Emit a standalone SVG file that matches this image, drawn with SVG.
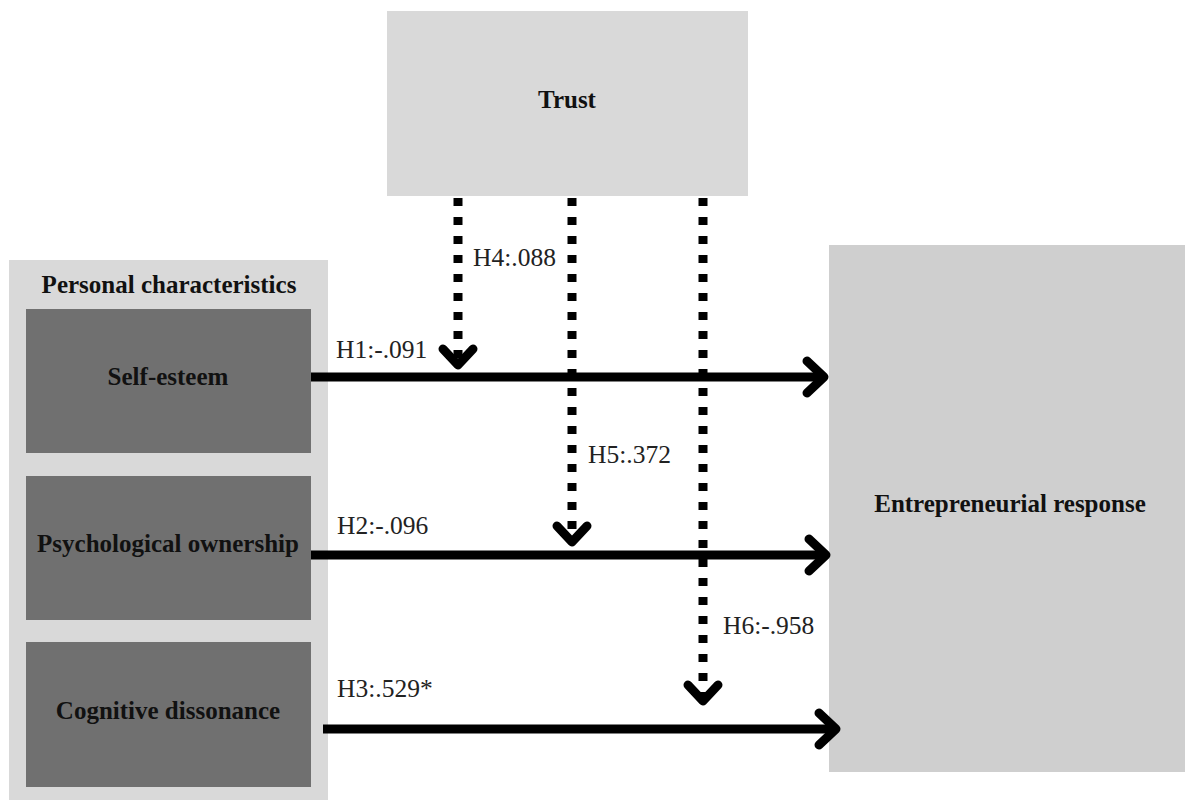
<svg xmlns="http://www.w3.org/2000/svg" width="1185" height="800" viewBox="0 0 1185 800">
<style>
.lbl{font-family:"Liberation Serif","Times New Roman",serif;font-weight:bold;font-size:25px;fill:#111;text-anchor:middle}
.hl{font-family:"Liberation Serif","Times New Roman",serif;font-size:25.5px;fill:#222}
.solid{stroke:#000;stroke-width:9;fill:none}
.dot{stroke:#000;stroke-width:9;fill:none;stroke-dasharray:8 11}
.head{stroke:#000;stroke-width:9;fill:none;stroke-linecap:round;stroke-linejoin:round}
</style>
<rect width="1185" height="800" fill="#fff"/>
<g id="trust">
<rect x="387" y="11" width="361" height="185" fill="#d9d9d9"/>
<text class="lbl" x="567" y="108">Trust</text>
</g>
<g id="personal">
<rect x="9" y="260" width="319" height="540" fill="#d9d9d9"/>
<text class="lbl" x="169" y="293">Personal characteristics</text>
</g>
<g id="self-esteem">
<rect x="26" y="309" width="285" height="144" fill="#707070"/>
<text class="lbl" x="168" y="385">Self-esteem</text>
</g>
<g id="ownership">
<rect x="26" y="476" width="285" height="144" fill="#707070"/>
<text class="lbl" x="168" y="552">Psychological ownership</text>
</g>
<g id="dissonance">
<rect x="26" y="642" width="285" height="145" fill="#707070"/>
<text class="lbl" x="168" y="719">Cognitive dissonance</text>
</g>
<g id="response">
<rect x="829" y="245" width="356" height="527" fill="#cfcfcf"/>
<text class="lbl" x="1010" y="512">Entrepreneurial response</text>
</g>
<g id="connectors">
<line class="solid" x1="311" y1="377" x2="825" y2="377"/>
<polyline class="head" points="807,361 824,377 807,393"/>
<line class="solid" x1="311" y1="555" x2="827" y2="555"/>
<polyline class="head" points="809,539 826,555 809,571"/>
<line class="solid" x1="323" y1="729" x2="837" y2="729"/>
<polyline class="head" points="819,713 836,729 819,745"/>
<line class="dot" x1="458" y1="198" x2="458" y2="360"/>
<polyline class="head" points="443,349 458,365 473,349"/>
<line class="dot" x1="572" y1="198" x2="572" y2="538"/>
<polyline class="head" points="557,526 572,542 587,526"/>
<line class="dot" x1="703" y1="198" x2="703" y2="695"/>
<polyline class="head" points="688,685 703,701 718,685"/>
</g>
<g id="labels">
<text class="hl" x="336" y="358">H1:-.091</text>
<text class="hl" x="337" y="534">H2:-.096</text>
<text class="hl" x="337" y="697">H3:.529*</text>
<text class="hl" x="473" y="266">H4:.088</text>
<text class="hl" x="588" y="463">H5:.372</text>
<text class="hl" x="723" y="634">H6:-.958</text>
</g>
</svg>
